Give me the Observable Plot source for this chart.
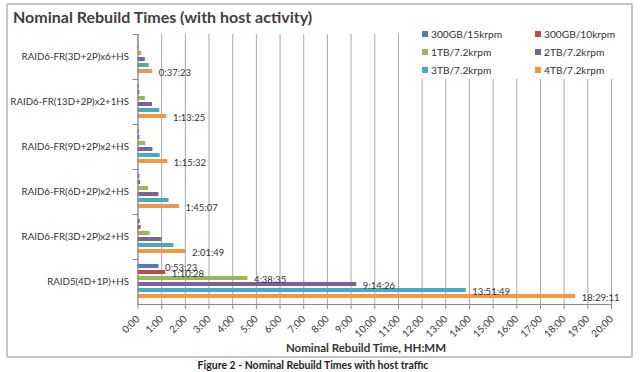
<!DOCTYPE html>
<html><head><meta charset="utf-8">
<script src="https://cdn.jsdelivr.net/npm/d3@7"></script>
<script src="https://cdn.jsdelivr.net/npm/@observablehq/plot@0.6"></script>
<style>
body{margin:0;background:#fff;font-family:Lato,"Open Sans",sans-serif;}
#wrap{position:relative;width:640px;height:372px;overflow:hidden;}
#frame{position:absolute;left:6px;top:3px;width:627px;height:355px;border:2px solid #c4c4c4;border-radius:2px;box-sizing:border-box;}
#chart{position:absolute;left:0;top:0;}
#title{position:absolute;left:13px;top:7px;font-weight:bold;font-size:16px;color:#404040;white-space:nowrap;}
#legend{position:absolute;left:415px;top:25px;width:213px;height:54px;background:#fff;}
.li{position:absolute;font-size:10.2px;color:#333;white-space:nowrap;line-height:12px;}
.sw{display:inline-block;width:6px;height:6px;margin-right:3px;vertical-align:1px;}
#xtitle{position:absolute;left:0;width:732px;top:341px;text-align:center;font-weight:bold;font-size:11.5px;color:#333;}
#caption{position:absolute;left:0;width:626px;top:359px;text-align:center;font-weight:bold;font-size:10.5px;color:#222;}
</style></head>
<body>
<div id="wrap">
<div id="frame"></div>
<div id="chart"></div>
<div id="title">Nominal Rebuild Times (with host activity)</div>
<div id="legend"></div>
<div id="xtitle">Nominal Rebuild Time, HH:MM</div>
<div id="caption">Figure 2 - Nominal Rebuild Times with host traffic</div>
</div>
<script>
const groups = ["RAID6-FR(3D+2P)x6+HS", "RAID6-FR(13D+2P)x2+1HS", "RAID6-FR(9D+2P)x2+HS", "RAID6-FR(6D+2P)x2+HS", "RAID6-FR(3D+2P)x2+HS", "RAID5(4D+1P)+HS"];
const series = ["300GB/15krpm", "300GB/10krpm", "1TB/7.2krpm", "2TB/7.2krpm", "3TB/7.2krpm", "4TB/7.2krpm"];
const colors = ["#4A7EBB", "#BE4B48", "#98B954", "#7D60A0", "#46AAC5", "#F39646"];

// rebuild times in hours, one entry per group (top to bottom)
const v300GB15k = [0.03, 0.06, 0.06, 0.08, 0.10, 0.8897];
const v300GB10k = [0.04, 0.08, 0.08, 0.11, 0.13, 1.1744];
const v1TB = [0.16, 0.31, 0.32, 0.44, 0.51, 4.6431];
const v2TB = [0.31, 0.61, 0.63, 0.88, 1.01, 9.2406];
const v3TB = [0.47, 0.92, 0.94, 1.31, 1.52, 13.8636];
const v4TB = [0.6231, 1.2236, 1.2589, 1.7519, 2.0303, 18.4864];

// data labels (HH:MM:SS)
const l300GB15k = ["", "", "", "", "", "0:53:23"];
const l300GB10k = ["", "", "", "", "", "1:10:28"];
const l1TB = ["", "", "", "", "", "4:38:35"];
const l2TB = ["", "", "", "", "", "9:14:26"];
const l3TB = ["", "", "", "", "", "13:51:49"];
const l4TB = ["0:37:23", "1:13:25", "1:15:32", "1:45:07", "2:01:49", "18:29:11"];

const xTicks = [0,1,2,3,4,5,6,7,8,9,10,11,12,13,14,15,16,17,18,19,20];
const xTickLabels = ["0:00","1:00","2:00","3:00","4:00","5:00","6:00","7:00","8:00","9:00","10:00","11:00","12:00","13:00","14:00","15:00","16:00","17:00","18:00","19:00","20:00"];

const valueSets = [v300GB15k, v300GB10k, v1TB, v2TB, v3TB, v4TB];
const labelSets = [l300GB15k, l300GB10k, l1TB, l2TB, l3TB, l4TB];
const data = [];
series.forEach((s, si) => groups.forEach((g, gi) => {
  data.push({series: s, group: g, value: valueSets[si][gi], label: labelSets[si][gi]});
}));

const W = 640, H = 372, mL = 137.5, mR = 29, mT = 33, mB = 67;
const plotW = W - mL - mR;

const chart = Plot.plot({
  width: W, height: H,
  marginLeft: mL, marginRight: mR, marginTop: mT, marginBottom: mB,
  style: {fontFamily: "Lato, 'Open Sans', sans-serif", fontSize: "10px", color: "#333", background: "transparent"},
  x: {domain: [0, 20], axis: null},
  y: {domain: series, paddingInner: 0.3, paddingOuter: 0.5, axis: null},
  fy: {domain: groups, padding: 0, axis: null},
  color: {domain: series, range: colors},
  marks: [
    Plot.gridX(xTicks, {stroke: "#a8a8a8", strokeOpacity: 1}),
    Plot.barX(data, {x: "value", y: "series", fy: "group", fill: "series"}),
    Plot.text(data.filter(d => d.label), {x: "value", y: "series", fy: "group", text: "label", textAnchor: "start", dx: 6, dy: 1, fontSize: 9.5, fill: "#333"}),
    Plot.frame({anchor: "top", stroke: "#888", insetLeft: -5, insetRight: plotW}),
    Plot.frame({anchor: "left", stroke: "#888", facet: "super"}),
    Plot.frame({anchor: "bottom", stroke: "#888", facet: "super"}),
    Plot.axisFy({anchor: "left", tickSize: 0, tickPadding: 9, fontSize: 9.7, label: null}),
    Plot.axisX(xTicks, {anchor: "bottom", tickFormat: d => xTickLabels[xTicks.indexOf(d)], tickRotate: -45, tickSize: 5, tickPadding: 8, stroke: "#888", fill: "#333", fontSize: 10, label: null})
  ]
});
document.getElementById("chart").appendChild(chart);

const legend = document.getElementById("legend");
const legPos = [[7, 3], [120, 3], [7, 21], [120, 21], [7, 39], [120, 39]];
series.forEach((s, i) => {
  const el = document.createElement("div");
  el.className = "li";
  el.style.left = legPos[i][0] + "px";
  el.style.top = legPos[i][1] + "px";
  el.innerHTML = `<span class="sw" style="background:${colors[i]}"></span>${s}`;
  legend.appendChild(el);
});
</script>
</body></html>
